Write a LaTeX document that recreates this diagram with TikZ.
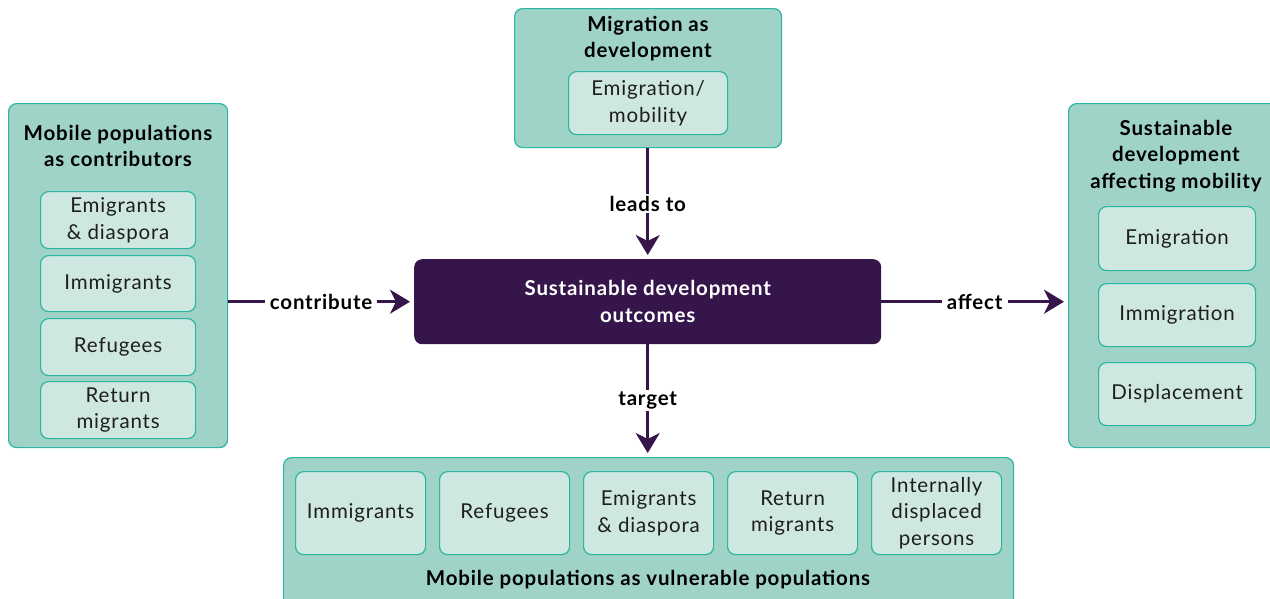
\documentclass[tikz,border=0pt]{standalone}
\usepackage{fontspec}
\setmainfont{Lato}[LetterSpace=4]
\usetikzlibrary{arrows.meta}
\definecolor{outerfill}{RGB}{160,211,199}
\definecolor{innerfill}{RGB}{206,231,225}
\definecolor{tealedge}{RGB}{42,182,160}
\definecolor{darkpurple}{RGB}{54,22,74}
\definecolor{txt}{RGB}{30,30,30}
\tikzset{
  outerbox/.style={draw=tealedge, fill=outerfill, line width=1.2pt, rounded corners=8pt, anchor=north west, inner sep=0pt},
  innerbox/.style={draw=tealedge, fill=innerfill, line width=1.2pt, rounded corners=8pt, anchor=north west, inner sep=0pt, align=center, text=txt, font=\fontsize{20.5}{26.5}\selectfont},
  titletext/.style={align=center, text=black, font=\fontsize{20.5}{26.5}\selectfont\bfseries, inner sep=0pt},
  centerbox/.style={fill=darkpurple, rounded corners=8pt, anchor=north west, inner sep=0pt, align=center, text=white, font=\fontsize{20.5}{26.5}\selectfont\bfseries},
  conn/.style={draw=darkpurple, line width=3pt, -{Stealth[length=20pt, width=24pt, inset=6pt]}, shorten >=4pt},
  lbl/.style={fill=white, inner xsep=5pt, inner ysep=2pt, text=black, font=\fontsize{20.5}{24}\selectfont\bfseries}
}
\begin{document}
\begin{tikzpicture}[x=1pt, y=-1pt]
\useasboundingbox (0,0) rectangle (1270,598);
\clip (0,0) rectangle (1270,598);

% outer groups
\node[outerbox, minimum width=219pt, minimum height=344pt] (L) at (8,103) {};
\node[outerbox, minimum width=267pt, minimum height=139pt] (T) at (514,8) {};
\node[outerbox, minimum width=230pt, minimum height=344pt] (R) at (1068,103) {};
\node[outerbox, minimum width=730pt, minimum height=160pt] (B) at (283,457) {};

% titles
\node[titletext] (Lt) at (118,146) {Mobile populations\\as contributors};
\node[titletext] (Tt) at (648,38.5) {Migration as\\development};
\node[titletext] (Rt) at (1176,156) {Sustainable\\development\\affecting mobility};
\node[titletext] (Bt) at (648,580) {Mobile populations as vulnerable populations};

% left inner boxes
\node[innerbox, minimum width=155pt, minimum height=57pt] (L1) at (40,191) {Emigrants\\\& diaspora};
\node[innerbox, minimum width=155pt, minimum height=56pt] (L2) at (40,255) {Immigrants};
\node[innerbox, minimum width=155pt, minimum height=57pt] (L3) at (40,318) {Refugees};
\node[innerbox, minimum width=155pt, minimum height=57pt] (L4) at (40,381) {Return\\migrants};

% top inner box
\node[innerbox, minimum width=159pt, minimum height=63pt] (T1) at (568,71) {Emigration/\\mobility};

% right inner boxes
\node[innerbox, minimum width=157pt, minimum height=64pt] (R1) at (1098,206) {Emigration};
\node[innerbox, minimum width=157pt, minimum height=63pt] (R2) at (1098,283) {Immigration};
\node[innerbox, minimum width=157pt, minimum height=63pt] (R3) at (1098,362) {Displacement};

% bottom inner boxes
\node[innerbox, minimum width=130pt, minimum height=83pt] (B1) at (295,471) {Immigrants};
\node[innerbox, minimum width=130pt, minimum height=83pt] (B2) at (439,471) {Refugees};
\node[innerbox, minimum width=130pt, minimum height=83pt] (B3) at (583,471) {Emigrants\\\& diaspora};
\node[innerbox, minimum width=130pt, minimum height=83pt] (B4) at (727,471) {Return\\migrants};
\node[innerbox, minimum width=130pt, minimum height=83pt] (B5) at (871,471) {Internally\\displaced\\persons};

% center
\node[centerbox, minimum width=467pt, minimum height=85pt] (C) at (414,259) {Sustainable development\\outcomes};

% connectors
\draw[conn] (T.south -| C.north) -- node[lbl] (a1) {leads to} (C.north);
\draw[conn] (L.east |- C.west) -- node[lbl] (a2) {contribute} (C.west);
\draw[conn] (C.east) -- node[lbl] (a3) {affect} (R.west |- C.east);
\draw[conn] (C.south) -- node[lbl] (a4) {target} (C.south |- B.north);
\end{tikzpicture}
\end{document}
